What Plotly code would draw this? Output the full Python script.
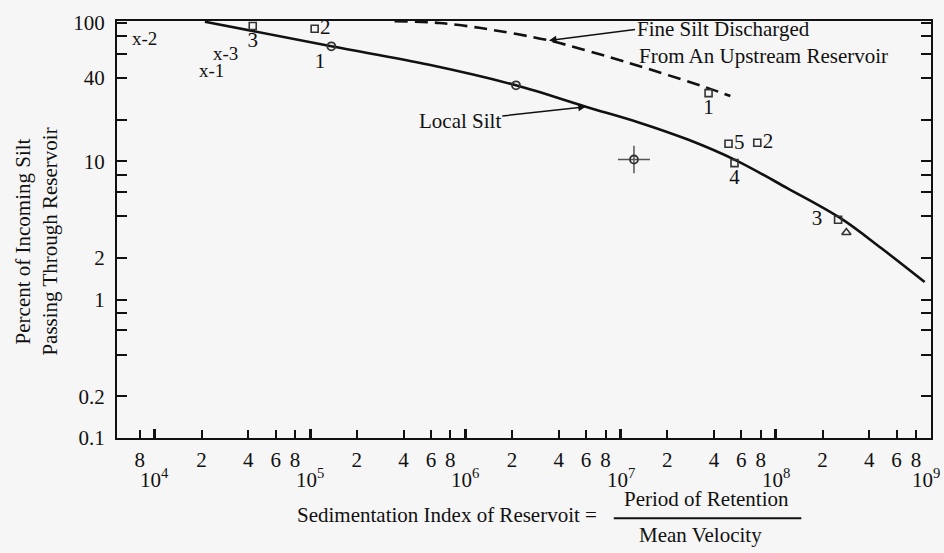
import numpy as np
import plotly.graph_objects as go

# ---------------- data ----------------
# Solid curve: "Local Silt"
local_x = [2.1e4, 1.37e5, 5.85e5, 2.12e6, 5.97e6, 1.31e7, 2.74e7, 5.5e7, 1.2e8, 2.64e8, 4.77e8, 9.1e8]
local_y = [102, 67.8, 49.8, 35.4, 24.8, 19.1, 14.3, 10.2, 6.35, 3.85, 2.36, 1.34]

# Dashed curve: fine silt discharged from an upstream reservoir
fine_x = [3.5e5, 6.8e5, 1.23e6, 3.46e6, 1.13e7, 3.53e7, 5.1e7]
fine_y = [103, 100, 92.2, 74.7, 51.4, 34.3, 29.6]

# Open squares with numbers
sq_x = [4.27e4, 1.07e5, 3.69e7, 4.96e7, 7.6e7, 5.42e7, 2.52e8]
sq_y = [95, 90.7, 31.1, 13.4, 13.6, 9.7, 3.78]
sq_lbl = ["3", "2", "1", "5", "2", "4", "3  "]
sq_pos = ["bottom center", "middle right", "bottom center", "middle right",
          "middle right", "bottom center", "middle left"]

# Open circle with number
circ_x = [1.37e5]
circ_y = [67.8]
circ_lbl = ["1"]

# Open circle without number
dot_x = [2.12e6]
dot_y = [35.4]

# Open triangle
tri_x = [2.85e8]
tri_y = [3.06]

# Point with cross-hair error bars
cross_x = [1.22e7]
cross_y = [10.3]
cross_ex_plus = [3.27e6]
cross_ex_minus = [2.58e6]
cross_ey_plus = [2.67]
cross_ey_minus = [2.12]

# "x-n" labels
xlab_x = [8.6e3, 2.86e4, 2.32e4]
xlab_y = [74.6, 58.6, 43.8]
xlab_txt = ["x-2", "x-3", "x-1"]

# Axis ticks (labelled)
x_tick_vals = [8e3, 2e4, 4e4, 6e4, 8e4, 2e5, 4e5, 6e5, 8e5,
               2e6, 4e6, 6e6, 8e6, 2e7, 4e7, 6e7, 8e7,
               2e8, 4e8, 6e8, 8e8]
x_tick_text = ["8", "2", "4", "6", "8", "2", "4", "6", "8",
               "2", "4", "6", "8", "2", "4", "6", "8",
               "2", "4", "6", "8"]
# decade ticks (labelled 10^n below)
x_decades = [4, 5, 6, 7, 8, 9]
x_decade_vals = [1e4, 1e5, 1e6, 1e7, 1e8, 1e9]

y_tick_vals = [100, 40, 10, 2, 1, 0.2, 0.1]
y_tick_text = ["100", "40", "10", "2", "1", "0.2", "0.1"]
y_minor_vals = [80, 60, 20, 8, 6, 4, 0.8, 0.6, 0.4]

FONT = "Liberation Serif, Times New Roman, serif"
INK = "#111111"
BG = "#f6f6f6"
FS = 21

fig = go.Figure()

fig.add_trace(go.Scatter(x=local_x, y=local_y, mode="lines",
                         line=dict(color=INK, width=2.6, shape="spline", smoothing=1.0),
                         hoverinfo="skip"))
fig.add_trace(go.Scatter(x=fine_x, y=fine_y, mode="lines",
                         line=dict(color=INK, width=2.6, dash="13px,7px", shape="spline", smoothing=0.8),
                         hoverinfo="skip"))

fig.add_trace(go.Scatter(x=sq_x, y=sq_y, mode="markers+text", text=sq_lbl, textposition=sq_pos,
                         textfont=dict(family=FONT, size=FS, color=INK),
                         marker=dict(symbol="square-open", size=7, color="#333333", line=dict(width=1.6))))
fig.add_trace(go.Scatter(x=circ_x, y=circ_y, mode="markers+text", text=circ_lbl, textposition="bottom left",
                         textfont=dict(family=FONT, size=FS, color=INK),
                         marker=dict(symbol="circle-open", size=8, color="#333333", line=dict(width=1.8))))
fig.add_trace(go.Scatter(x=dot_x, y=dot_y, mode="markers",
                         marker=dict(symbol="circle-open", size=8, color="#333333", line=dict(width=1.8))))
fig.add_trace(go.Scatter(x=tri_x, y=tri_y, mode="markers",
                         marker=dict(symbol="triangle-up-open", size=8, color="#333333", line=dict(width=1.6))))
fig.add_trace(go.Scatter(x=cross_x, y=cross_y, mode="markers",
                         marker=dict(symbol="circle-open", size=8, color="#333333", line=dict(width=1.8)),
                         error_x=dict(type="data", symmetric=False, array=cross_ex_plus,
                                      arrayminus=cross_ex_minus, width=0, thickness=1.5, color="#555555"),
                         error_y=dict(type="data", symmetric=False, array=cross_ey_plus,
                                      arrayminus=cross_ey_minus, width=0, thickness=1.5, color="#555555")))
fig.add_trace(go.Scatter(x=xlab_x, y=xlab_y, mode="text", text=xlab_txt, textposition="middle center",
                         textfont=dict(family=FONT, size=19, color=INK)))

annotations = []
# decade labels under the x axis
for n in x_decades:
    annotations.append(dict(x=n, xref="x", y=-0.096, yref="paper", text=f"10<sup>{n}</sup>",
                            showarrow=False, xanchor="center", yanchor="middle",
                            xshift=-5 if n == 9 else 0,
                            font=dict(family=FONT, size=FS, color=INK)))
# x-axis title with fraction
annotations.append(dict(x=0.5919, xref="paper", y=-0.1853, yref="paper",
                        text="Sedimentation Index of Reservoit =", showarrow=False,
                        xanchor="right", yanchor="middle", font=dict(family=FONT, size=FS, color=INK)))
annotations.append(dict(x=0.7243, xref="paper", y=-0.1473, yref="paper",
                        text="Period of Retention", showarrow=False,
                        xanchor="center", yanchor="middle", font=dict(family=FONT, size=FS, color=INK)))
annotations.append(dict(x=0.7169, xref="paper", y=-0.2328, yref="paper",
                        text="Mean Velocity", showarrow=False,
                        xanchor="center", yanchor="middle", font=dict(family=FONT, size=FS, color=INK)))
# y-axis title
annotations.append(dict(x=-0.1, xref="paper", y=0.47, yref="paper",
                        text="Percent of Incoming Silt<br>Passing Through Reservoir",
                        textangle=-90, showarrow=False, xanchor="center", yanchor="middle",
                        font=dict(family=FONT, size=FS, color=INK)))
# curve labels with arrows
annotations.append(dict(x=np.log10(local_x[4]), y=np.log10(local_y[4]), xref="x", yref="y",
                        text="Local Silt", showarrow=True, ax=-126, ay=14,
                        arrowhead=2, arrowsize=1, arrowwidth=1.5, arrowcolor=INK, standoff=0,
                        font=dict(family=FONT, size=FS, color=INK)))
annotations.append(dict(x=np.log10(fine_x[3]), y=np.log10(fine_y[3]), xref="x", yref="y",
                        text="Fine Silt Discharged", showarrow=True, ax=86, ay=-11,
                        xanchor="left", yanchor="middle",
                        arrowhead=2, arrowsize=1, arrowwidth=1.5, arrowcolor=INK, standoff=0,
                        font=dict(family=FONT, size=FS, color=INK)))
annotations.append(dict(x=0.6385, xref="paper", y=0.9169, yref="paper",
                        text="From An Upstream Reservoir", showarrow=False,
                        xanchor="left", yanchor="middle", font=dict(family=FONT, size=FS, color=INK)))

fig.update_layout(
    width=944, height=553,
    margin=dict(l=117, r=11, t=17, b=115),
    paper_bgcolor=BG, plot_bgcolor=BG,
    showlegend=False,
    font=dict(family=FONT, size=FS, color=INK),
    annotations=annotations,
    shapes=[dict(type="line", xref="paper", yref="paper", x0=0.6103, x1=0.8407,
                 y0=-0.1924, y1=-0.1924, line=dict(color=INK, width=2))],
    xaxis=dict(type="log", range=[3.756, 9.0], tickmode="array",
               tickvals=x_tick_vals, ticktext=x_tick_text,
               ticks="inside", ticklen=8, tickwidth=2, tickcolor=INK,
               minor=dict(tickmode="array", tickvals=x_decade_vals, ticks="inside",
                          ticklen=9, tickwidth=3, tickcolor=INK, showgrid=False),
               showline=True, linecolor=INK, linewidth=2, mirror=True,
               showgrid=False, zeroline=False, ticklabelstandoff=2,
               tickfont=dict(family=FONT, size=FS, color=INK)),
    yaxis=dict(type="log", range=[-1, 2.014], tickmode="array",
               tickvals=y_tick_vals, ticktext=y_tick_text,
               ticks="inside", ticklen=10, tickwidth=2, tickcolor=INK,
               minor=dict(tickmode="array", tickvals=y_minor_vals, ticks="inside",
                          ticklen=10, tickwidth=2, tickcolor=INK, showgrid=False),
               showline=True, linecolor=INK, linewidth=2, mirror="ticks",
               showgrid=False, zeroline=False, ticklabelstandoff=6,
               tickfont=dict(family=FONT, size=FS, color=INK)),
)

fig.write_html("out.html")
